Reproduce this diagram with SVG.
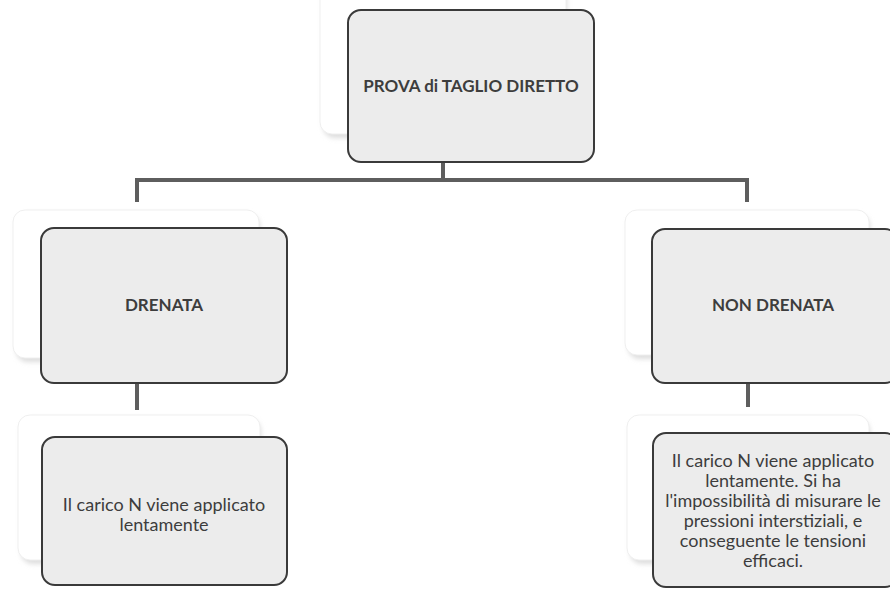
<svg xmlns="http://www.w3.org/2000/svg" width="890" height="589" viewBox="0 0 890 589">
<defs>
<filter id="sh" x="-10%" y="-10%" width="120%" height="130%">
<feGaussianBlur stdDeviation="2.5"/>
</filter>
<style>
.back{fill:#ffffff;stroke:#efefef;stroke-width:1}
.backsh{fill:#dddddd;filter:url(#sh)}
.box{fill:#ececec;stroke:#3a3a3a;stroke-width:2}
.t{font-family:Lato,"Open Sans",sans-serif;fill:#3d3d3d;text-anchor:middle}
.b{font-weight:bold;font-size:17px}
.n{font-size:18px}
.conn{fill:none;stroke:#5e5e5e;stroke-width:4}
</style>
</defs>
<rect width="890" height="589" fill="#ffffff"/>
<g id="connectors">
<path class="conn" d="M443 162 V180 M137 202 V180 H747 V202"/>
<path class="conn" d="M137 383 V410"/>
<path class="conn" d="M748 383 V407"/>
</g>
<g id="n-top">
<rect class="backsh" x="323" y="-14" width="244" height="152" rx="12"/>
<rect class="back" x="320" y="-18" width="246" height="152" rx="12"/>
<rect class="box" x="348" y="10" width="246" height="152" rx="13"/>
<text class="t b" x="471" y="92">PROVA di TAGLIO DIRETTO</text>
</g>
<g id="n-drenata">
<rect class="backsh" x="16" y="214" width="244" height="148" rx="12"/>
<rect class="back" x="13" y="210" width="246" height="148" rx="12"/>
<rect class="box" x="41" y="228" width="246" height="155" rx="13"/>
<text class="t b" x="164" y="311">DRENATA</text>
</g>
<g id="n-nondrenata">
<rect class="backsh" x="628" y="214" width="242" height="145" rx="12"/>
<rect class="back" x="625" y="210" width="244" height="145" rx="12"/>
<rect class="box" x="652" y="229" width="246" height="154" rx="13"/>
<text class="t b" x="773" y="311">NON DRENATA</text>
</g>
<g id="n-drenata-desc">
<rect class="backsh" x="21" y="419" width="240" height="145" rx="12"/>
<rect class="back" x="18" y="415" width="242" height="145" rx="12"/>
<rect class="box" x="42" y="437" width="245" height="148" rx="13"/>
<text class="t n" x="164" y="511">Il carico N viene applicato</text>
<text class="t n" x="164" y="531">lentamente</text>
</g>
<g id="n-nondrenata-desc">
<rect class="backsh" x="630" y="419" width="240" height="145" rx="12"/>
<rect class="back" x="627" y="415" width="242" height="145" rx="12"/>
<rect class="box" x="653" y="433" width="245" height="154" rx="13"/>
<text class="t n" x="773" y="467">Il carico N viene applicato</text>
<text class="t n" x="773" y="487">lentamente. Si ha</text>
<text class="t n" x="773" y="507">l'impossibilità di misurare le</text>
<text class="t n" x="773" y="527">pressioni interstiziali, e</text>
<text class="t n" x="773" y="547">conseguente le tensioni</text>
<text class="t n" x="773" y="567">efficaci.</text>
</g>
</svg>
